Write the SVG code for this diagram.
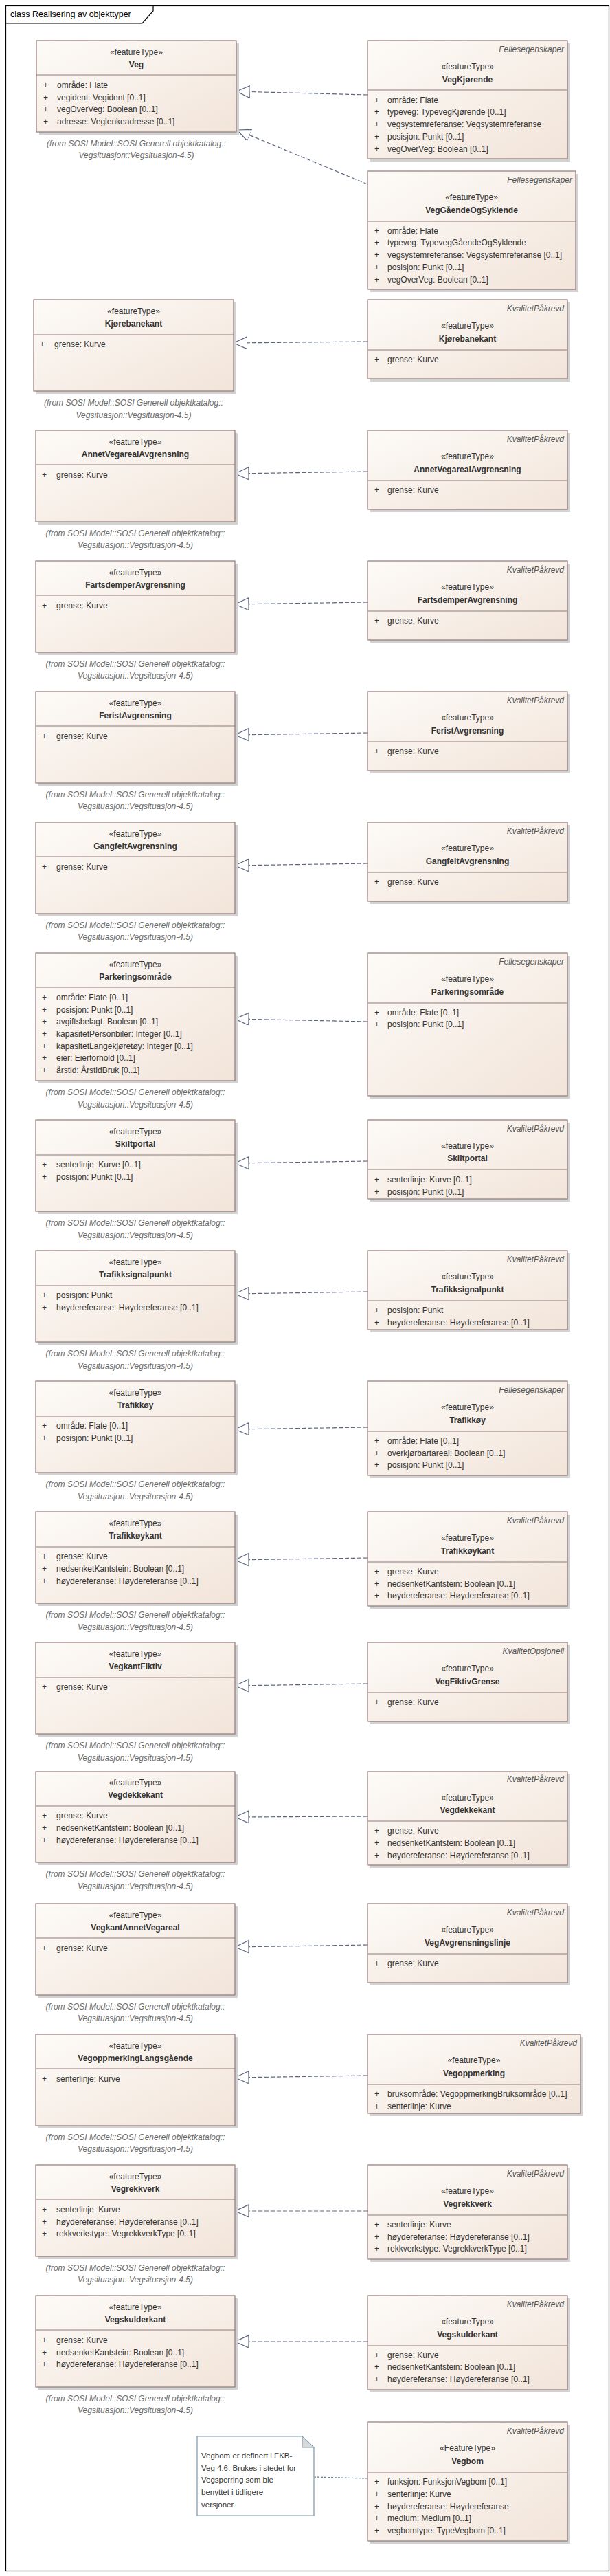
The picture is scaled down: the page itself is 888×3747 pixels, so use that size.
<svg xmlns="http://www.w3.org/2000/svg" width="888" height="3747" viewBox="0 0 888 3747">
<style>
text{font-family:"Liberation Sans",Arial,sans-serif;font-size:12px;fill:#333}
.box{fill:url(#g);stroke:#927878;stroke-width:1.2}
.sh{fill:#d2d2d2}
.sep{stroke:#927878;stroke-width:1.2}
.c{text-anchor:middle}
.b{font-weight:bold}
.k{fill:#555;font-style:italic;text-anchor:end}
.f{fill:#6a6a6a;font-style:italic;text-anchor:middle}
.con{fill:none;stroke:#5a6680;stroke-width:1.2;stroke-dasharray:6 3;marker-end:url(#tri)}
.nl{fill:none;stroke:#5a7a8a;stroke-width:1.2;stroke-dasharray:3 2}
</style>
<defs>
<linearGradient id="g" x1="0" y1="0" x2="1" y2="1">
<stop offset="0" stop-color="#fdfbf8"/>
<stop offset="1" stop-color="#f2e4d9"/>
</linearGradient>
<marker id="tri" markerUnits="userSpaceOnUse" markerWidth="22" markerHeight="20" refX="20" refY="9" orient="auto">
<path d="M20,9 L0,0 L0,18 Z" fill="#fff" stroke="#5a6680" stroke-width="1.2"/>
</marker>
</defs>
<rect x="0" y="0" width="888" height="3747" fill="#fff"/>
<rect x="8.5" y="8.5" width="878" height="3731" fill="none" stroke="#000" stroke-width="1.2"/>
<path d="M8.5,34 H207 L223,16 V8.5" fill="none" stroke="#000" stroke-width="1.2"/>
<text x="15" y="25" style="font-size:12.5px;fill:#000">class Realisering av objekttyper</text>

<g id="connectors">
<path class="con" d="M535,138 L344,133"/>
<path class="con" d="M535,268 L345,189"/>
<path class="con" d="M535,497 L340,499"/>
<path class="con" d="M535,686 L342,689"/>
<path class="con" d="M535,876 L342,879"/>
<path class="con" d="M535,1066 L342,1069"/>
<path class="con" d="M535,1256 L342,1259"/>
<path class="con" d="M535,1486 L342,1482"/>
<path class="con" d="M535,1689 L342,1692"/>
<path class="con" d="M535,1879 L342,1882"/>
<path class="con" d="M535,2076 L342,2079"/>
<path class="con" d="M535,2266 L342,2269"/>
<path class="con" d="M535,2449 L342,2452"/>
<path class="con" d="M535,2642 L342,2643"/>
<path class="con" d="M535,2829 L342,2832"/>
<path class="con" d="M535,3019 L342,3022"/>
<path class="con" d="M535,3216 L342,3216"/>
<path class="con" d="M535,3406 L342,3406"/>
<path class="nl" d="M457,3603 L535,3605"/>
</g>

<!-- Veg -->
<g id="Veg">
<rect class="sh" x="57" y="63" width="291" height="133"/>
<rect class="box" x="53" y="59" width="291" height="133"/>
<line class="sep" x1="53" y1="109" x2="344" y2="109"/>
<text class="c" x="198.5" y="80">«featureType»</text>
<text class="c b" x="198.5" y="98">Veg</text>
<text x="63" y="128">+</text><text x="83" y="128">område: Flate</text>
<text x="63" y="146">+</text><text x="83" y="146">vegident: Vegident [0..1]</text>
<text x="63" y="163">+</text><text x="83" y="163">vegOverVeg: Boolean [0..1]</text>
<text x="63" y="181">+</text><text x="83" y="181">adresse: Veglenkeadresse [0..1]</text>
<text class="f" x="198.5" y="213">(from SOSI Model::SOSI Generell objektkatalog::</text>
<text class="f" x="198.5" y="230">Vegsituasjon::Vegsituasjon-4.5)</text>
</g>
<g id="VegKjorende">
<rect class="sh" x="539" y="63" width="291" height="172"/>
<rect class="box" x="535" y="59" width="291" height="172"/>
<line class="sep" x1="535" y1="131" x2="826" y2="131"/>
<text class="k" x="821" y="76">Fellesegenskaper</text>
<text class="c" x="680.5" y="101">«featureType»</text>
<text class="c b" x="680.5" y="120">VegKjørende</text>
<text x="545" y="150">+</text><text x="564" y="150">område: Flate</text>
<text x="545" y="167">+</text><text x="564" y="167">typeveg: TypevegKjørende [0..1]</text>
<text x="545" y="185">+</text><text x="564" y="185">vegsystemreferanse: Vegsystemreferanse</text>
<text x="545" y="203">+</text><text x="564" y="203">posisjon: Punkt [0..1]</text>
<text x="545" y="221">+</text><text x="564" y="221">vegOverVeg: Boolean [0..1]</text>
</g>
<g id="VegGaendeOgSyklende">
<rect class="sh" x="539" y="253" width="303" height="172"/>
<rect class="box" x="535" y="249" width="303" height="172"/>
<line class="sep" x1="535" y1="322" x2="838" y2="322"/>
<text class="k" x="833" y="266">Fellesegenskaper</text>
<text class="c" x="686.5" y="291">«featureType»</text>
<text class="c b" x="686.5" y="310">VegGåendeOgSyklende</text>
<text x="545" y="340">+</text><text x="564" y="340">område: Flate</text>
<text x="545" y="357">+</text><text x="564" y="357">typeveg: TypevegGåendeOgSyklende</text>
<text x="545" y="375">+</text><text x="564" y="375">vegsystemreferanse: Vegsystemreferanse [0..1]</text>
<text x="545" y="393">+</text><text x="564" y="393">posisjon: Punkt [0..1]</text>
<text x="545" y="411">+</text><text x="564" y="411">vegOverVeg: Boolean [0..1]</text>
</g>

<!-- Kjørebanekant -->
<g id="Kjorebanekant">
<rect class="sh" x="53" y="440" width="291" height="133"/>
<rect class="box" x="49" y="436" width="291" height="133"/>
<line class="sep" x1="49" y1="487" x2="340" y2="487"/>
<text class="c" x="194.5" y="457">«featureType»</text>
<text class="c b" x="194.5" y="475">Kjørebanekant</text>
<text x="58" y="505">+</text><text x="79" y="505">grense: Kurve</text>
<text class="f" x="194.5" y="590">(from SOSI Model::SOSI Generell objektkatalog::</text>
<text class="f" x="194.5" y="608">Vegsituasjon::Vegsituasjon-4.5)</text>
</g>
<g id="Kjorebanekant_KP">
<rect class="sh" x="539" y="440" width="291" height="115"/>
<rect class="box" x="535" y="436" width="291" height="115"/>
<line class="sep" x1="535" y1="509" x2="826" y2="509"/>
<text class="k" x="821" y="453">KvalitetPåkrevd</text>
<text class="c" x="680.5" y="478">«featureType»</text>
<text class="c b" x="680.5" y="497">Kjørebanekant</text>
<text x="545" y="527">+</text><text x="564" y="527">grense: Kurve</text>
</g>

<!-- AnnetVegarealAvgrensning T=626 -->
<g id="AnnetVegarealAvgrensning">
<rect class="sh" x="56" y="630" width="290" height="133"/>
<rect class="box" x="52" y="626" width="290" height="133"/>
<line class="sep" x1="52" y1="676" x2="342" y2="676"/>
<text class="c" x="197" y="647">«featureType»</text>
<text class="c b" x="197" y="665">AnnetVegarealAvgrensning</text>
<text x="61" y="695">+</text><text x="82" y="695">grense: Kurve</text>
<text class="f" x="197" y="780">(from SOSI Model::SOSI Generell objektkatalog::</text>
<text class="f" x="197" y="797">Vegsituasjon::Vegsituasjon-4.5)</text>
</g>
<g id="AnnetVegarealAvgrensning_KP">
<rect class="sh" x="539" y="630" width="291" height="115"/>
<rect class="box" x="535" y="626" width="291" height="115"/>
<line class="sep" x1="535" y1="699" x2="826" y2="699"/>
<text class="k" x="821" y="643">KvalitetPåkrevd</text>
<text class="c" x="680.5" y="668">«featureType»</text>
<text class="c b" x="680.5" y="687">AnnetVegarealAvgrensning</text>
<text x="545" y="717">+</text><text x="564" y="717">grense: Kurve</text>
</g>

<!-- FartsdemperAvgrensning T=816 -->
<g id="FartsdemperAvgrensning">
<rect class="sh" x="56" y="820" width="290" height="133"/>
<rect class="box" x="52" y="816" width="290" height="133"/>
<line class="sep" x1="52" y1="866" x2="342" y2="866"/>
<text class="c" x="197" y="837">«featureType»</text>
<text class="c b" x="197" y="855">FartsdemperAvgrensning</text>
<text x="61" y="885">+</text><text x="82" y="885">grense: Kurve</text>
<text class="f" x="197" y="970">(from SOSI Model::SOSI Generell objektkatalog::</text>
<text class="f" x="197" y="987">Vegsituasjon::Vegsituasjon-4.5)</text>
</g>
<g id="FartsdemperAvgrensning_KP">
<rect class="sh" x="539" y="820" width="291" height="115"/>
<rect class="box" x="535" y="816" width="291" height="115"/>
<line class="sep" x1="535" y1="889" x2="826" y2="889"/>
<text class="k" x="821" y="833">KvalitetPåkrevd</text>
<text class="c" x="680.5" y="858">«featureType»</text>
<text class="c b" x="680.5" y="877">FartsdemperAvgrensning</text>
<text x="545" y="907">+</text><text x="564" y="907">grense: Kurve</text>
</g>

<!-- FeristAvgrensning T=1006 -->
<g id="FeristAvgrensning">
<rect class="sh" x="56" y="1010" width="290" height="133"/>
<rect class="box" x="52" y="1006" width="290" height="133"/>
<line class="sep" x1="52" y1="1056" x2="342" y2="1056"/>
<text class="c" x="197" y="1027">«featureType»</text>
<text class="c b" x="197" y="1045">FeristAvgrensning</text>
<text x="61" y="1075">+</text><text x="82" y="1075">grense: Kurve</text>
<text class="f" x="197" y="1160">(from SOSI Model::SOSI Generell objektkatalog::</text>
<text class="f" x="197" y="1177">Vegsituasjon::Vegsituasjon-4.5)</text>
</g>
<g id="FeristAvgrensning_KP">
<rect class="sh" x="539" y="1010" width="291" height="115"/>
<rect class="box" x="535" y="1006" width="291" height="115"/>
<line class="sep" x1="535" y1="1079" x2="826" y2="1079"/>
<text class="k" x="821" y="1023">KvalitetPåkrevd</text>
<text class="c" x="680.5" y="1048">«featureType»</text>
<text class="c b" x="680.5" y="1067">FeristAvgrensning</text>
<text x="545" y="1097">+</text><text x="564" y="1097">grense: Kurve</text>
</g>

<!-- GangfeltAvgrensning T=1196 -->
<g id="GangfeltAvgrensning">
<rect class="sh" x="56" y="1200" width="290" height="133"/>
<rect class="box" x="52" y="1196" width="290" height="133"/>
<line class="sep" x1="52" y1="1246" x2="342" y2="1246"/>
<text class="c" x="197" y="1217">«featureType»</text>
<text class="c b" x="197" y="1235">GangfeltAvgrensning</text>
<text x="61" y="1265">+</text><text x="82" y="1265">grense: Kurve</text>
<text class="f" x="197" y="1350">(from SOSI Model::SOSI Generell objektkatalog::</text>
<text class="f" x="197" y="1367">Vegsituasjon::Vegsituasjon-4.5)</text>
</g>
<g id="GangfeltAvgrensning_KP">
<rect class="sh" x="539" y="1200" width="291" height="115"/>
<rect class="box" x="535" y="1196" width="291" height="115"/>
<line class="sep" x1="535" y1="1269" x2="826" y2="1269"/>
<text class="k" x="821" y="1213">KvalitetPåkrevd</text>
<text class="c" x="680.5" y="1238">«featureType»</text>
<text class="c b" x="680.5" y="1257">GangfeltAvgrensning</text>
<text x="545" y="1287">+</text><text x="564" y="1287">grense: Kurve</text>
</g>

<!-- Parkeringsområde T=1386 -->
<g id="Parkeringsomrade">
<rect class="sh" x="56" y="1390" width="290" height="186"/>
<rect class="box" x="52" y="1386" width="290" height="186"/>
<line class="sep" x1="52" y1="1436" x2="342" y2="1436"/>
<text class="c" x="197" y="1407">«featureType»</text>
<text class="c b" x="197" y="1425">Parkeringsområde</text>
<text x="61" y="1455">+</text><text x="82" y="1455">område: Flate [0..1]</text>
<text x="61" y="1473">+</text><text x="82" y="1473">posisjon: Punkt [0..1]</text>
<text x="61" y="1490">+</text><text x="82" y="1490">avgiftsbelagt: Boolean [0..1]</text>
<text x="61" y="1508">+</text><text x="82" y="1508">kapasitetPersonbiler: Integer [0..1]</text>
<text x="61" y="1526">+</text><text x="82" y="1526">kapasitetLangekjøretøy: Integer [0..1]</text>
<text x="61" y="1543">+</text><text x="82" y="1543">eier: Eierforhold [0..1]</text>
<text x="61" y="1561">+</text><text x="82" y="1561">årstid: ÅrstidBruk [0..1]</text>
<text class="f" x="197" y="1593">(from SOSI Model::SOSI Generell objektkatalog::</text>
<text class="f" x="197" y="1611">Vegsituasjon::Vegsituasjon-4.5)</text>
</g>
<g id="Parkeringsomrade_FE">
<rect class="sh" x="539" y="1390" width="291" height="208"/>
<rect class="box" x="535" y="1386" width="291" height="208"/>
<line class="sep" x1="535" y1="1459" x2="826" y2="1459"/>
<text class="k" x="821" y="1403">Fellesegenskaper</text>
<text class="c" x="680.5" y="1428">«featureType»</text>
<text class="c b" x="680.5" y="1447">Parkeringsområde</text>
<text x="545" y="1477">+</text><text x="564" y="1477">område: Flate [0..1]</text>
<text x="545" y="1494">+</text><text x="564" y="1494">posisjon: Punkt [0..1]</text>
</g>

<!-- Skiltportal T=1629 -->
<g id="Skiltportal">
<rect class="sh" x="56" y="1633" width="290" height="133"/>
<rect class="box" x="52" y="1629" width="290" height="133"/>
<line class="sep" x1="52" y1="1680" x2="342" y2="1680"/>
<text class="c" x="197" y="1650">«featureType»</text>
<text class="c b" x="197" y="1668">Skiltportal</text>
<text x="61" y="1698">+</text><text x="82" y="1698">senterlinje: Kurve [0..1]</text>
<text x="61" y="1716">+</text><text x="82" y="1716">posisjon: Punkt [0..1]</text>
<text class="f" x="197" y="1783">(from SOSI Model::SOSI Generell objektkatalog::</text>
<text class="f" x="197" y="1801">Vegsituasjon::Vegsituasjon-4.5)</text>
</g>
<g id="Skiltportal_KP">
<rect class="sh" x="539" y="1633" width="291" height="115"/>
<rect class="box" x="535" y="1629" width="291" height="115"/>
<line class="sep" x1="535" y1="1701" x2="826" y2="1701"/>
<text class="k" x="821" y="1646">KvalitetPåkrevd</text>
<text class="c" x="680.5" y="1671">«featureType»</text>
<text class="c b" x="680.5" y="1689">Skiltportal</text>
<text x="545" y="1720">+</text><text x="564" y="1720">senterlinje: Kurve [0..1]</text>
<text x="545" y="1738">+</text><text x="564" y="1738">posisjon: Punkt [0..1]</text>
</g>

<!-- Trafikksignalpunkt T=1819 -->
<g id="Trafikksignalpunkt">
<rect class="sh" x="56" y="1823" width="290" height="133"/>
<rect class="box" x="52" y="1819" width="290" height="133"/>
<line class="sep" x1="52" y1="1870" x2="342" y2="1870"/>
<text class="c" x="197" y="1840">«featureType»</text>
<text class="c b" x="197" y="1858">Trafikksignalpunkt</text>
<text x="61" y="1888">+</text><text x="82" y="1888">posisjon: Punkt</text>
<text x="61" y="1906">+</text><text x="82" y="1906">høydereferanse: Høydereferanse [0..1]</text>
<text class="f" x="197" y="1973">(from SOSI Model::SOSI Generell objektkatalog::</text>
<text class="f" x="197" y="1991">Vegsituasjon::Vegsituasjon-4.5)</text>
</g>
<g id="Trafikksignalpunkt_KP">
<rect class="sh" x="539" y="1823" width="291" height="115"/>
<rect class="box" x="535" y="1819" width="291" height="115"/>
<line class="sep" x1="535" y1="1892" x2="826" y2="1892"/>
<text class="k" x="821" y="1836">KvalitetPåkrevd</text>
<text class="c" x="680.5" y="1861">«featureType»</text>
<text class="c b" x="680.5" y="1880">Trafikksignalpunkt</text>
<text x="545" y="1910">+</text><text x="564" y="1910">posisjon: Punkt</text>
<text x="545" y="1928">+</text><text x="564" y="1928">høydereferanse: Høydereferanse [0..1]</text>
</g>

<!-- Trafikkøy T=2009 -->
<g id="Trafikkoy">
<rect class="sh" x="56" y="2013" width="290" height="133"/>
<rect class="box" x="52" y="2009" width="290" height="133"/>
<line class="sep" x1="52" y1="2060" x2="342" y2="2060"/>
<text class="c" x="197" y="2030">«featureType»</text>
<text class="c b" x="197" y="2048">Trafikkøy</text>
<text x="61" y="2078">+</text><text x="82" y="2078">område: Flate [0..1]</text>
<text x="61" y="2096">+</text><text x="82" y="2096">posisjon: Punkt [0..1]</text>
<text class="f" x="197" y="2163">(from SOSI Model::SOSI Generell objektkatalog::</text>
<text class="f" x="197" y="2181">Vegsituasjon::Vegsituasjon-4.5)</text>
</g>
<g id="Trafikkoy_FE">
<rect class="sh" x="539" y="2013" width="291" height="137"/>
<rect class="box" x="535" y="2009" width="291" height="137"/>
<line class="sep" x1="535" y1="2082" x2="826" y2="2082"/>
<text class="k" x="821" y="2026">Fellesegenskaper</text>
<text class="c" x="680.5" y="2051">«featureType»</text>
<text class="c b" x="680.5" y="2070">Trafikkøy</text>
<text x="545" y="2100">+</text><text x="564" y="2100">område: Flate [0..1]</text>
<text x="545" y="2118">+</text><text x="564" y="2118">overkjørbartareal: Boolean [0..1]</text>
<text x="545" y="2135">+</text><text x="564" y="2135">posisjon: Punkt [0..1]</text>
</g>

<!-- Trafikkøykant T=2199 -->
<g id="Trafikkoykant">
<rect class="sh" x="56" y="2203" width="290" height="133"/>
<rect class="box" x="52" y="2199" width="290" height="133"/>
<line class="sep" x1="52" y1="2250" x2="342" y2="2250"/>
<text class="c" x="197" y="2220">«featureType»</text>
<text class="c b" x="197" y="2238">Trafikkøykant</text>
<text x="61" y="2268">+</text><text x="82" y="2268">grense: Kurve</text>
<text x="61" y="2286">+</text><text x="82" y="2286">nedsenketKantstein: Boolean [0..1]</text>
<text x="61" y="2304">+</text><text x="82" y="2304">høydereferanse: Høydereferanse [0..1]</text>
<text class="f" x="197" y="2353">(from SOSI Model::SOSI Generell objektkatalog::</text>
<text class="f" x="197" y="2371">Vegsituasjon::Vegsituasjon-4.5)</text>
</g>
<g id="Trafikkoykant_KP">
<rect class="sh" x="539" y="2203" width="291" height="137"/>
<rect class="box" x="535" y="2199" width="291" height="137"/>
<line class="sep" x1="535" y1="2272" x2="826" y2="2272"/>
<text class="k" x="821" y="2216">KvalitetPåkrevd</text>
<text class="c" x="680.5" y="2241">«featureType»</text>
<text class="c b" x="680.5" y="2260">Trafikkøykant</text>
<text x="545" y="2290">+</text><text x="564" y="2290">grense: Kurve</text>
<text x="545" y="2308">+</text><text x="564" y="2308">nedsenketKantstein: Boolean [0..1]</text>
<text x="545" y="2325">+</text><text x="564" y="2325">høydereferanse: Høydereferanse [0..1]</text>
</g>

<!-- VegkantFiktiv T=2389 -->
<g id="VegkantFiktiv">
<rect class="sh" x="56" y="2393" width="290" height="133"/>
<rect class="box" x="52" y="2389" width="290" height="133"/>
<line class="sep" x1="52" y1="2440" x2="342" y2="2440"/>
<text class="c" x="197" y="2410">«featureType»</text>
<text class="c b" x="197" y="2428">VegkantFiktiv</text>
<text x="61" y="2458">+</text><text x="82" y="2458">grense: Kurve</text>
<text class="f" x="197" y="2543">(from SOSI Model::SOSI Generell objektkatalog::</text>
<text class="f" x="197" y="2561">Vegsituasjon::Vegsituasjon-4.5)</text>
</g>
<g id="VegFiktivGrense">
<rect class="sh" x="539" y="2393" width="291" height="115"/>
<rect class="box" x="535" y="2389" width="291" height="115"/>
<line class="sep" x1="535" y1="2462" x2="826" y2="2462"/>
<text class="k" x="821" y="2406">KvalitetOpsjonell</text>
<text class="c" x="680.5" y="2431">«featureType»</text>
<text class="c b" x="680.5" y="2450">VegFiktivGrense</text>
<text x="545" y="2480">+</text><text x="564" y="2480">grense: Kurve</text>
</g>

<!-- Vegdekkekant T=2577 -->
<g id="Vegdekkekant">
<rect class="sh" x="56" y="2581" width="290" height="132"/>
<rect class="box" x="52" y="2577" width="290" height="132"/>
<line class="sep" x1="52" y1="2627" x2="342" y2="2627"/>
<text class="c" x="197" y="2597">«featureType»</text>
<text class="c b" x="197" y="2615">Vegdekkekant</text>
<text x="61" y="2645">+</text><text x="82" y="2645">grense: Kurve</text>
<text x="61" y="2663">+</text><text x="82" y="2663">nedsenketKantstein: Boolean [0..1]</text>
<text x="61" y="2681">+</text><text x="82" y="2681">høydereferanse: Høydereferanse [0..1]</text>
<text class="f" x="197" y="2730">(from SOSI Model::SOSI Generell objektkatalog::</text>
<text class="f" x="197" y="2748">Vegsituasjon::Vegsituasjon-4.5)</text>
</g>
<g id="Vegdekkekant_KP">
<rect class="sh" x="539" y="2581" width="291" height="136"/>
<rect class="box" x="535" y="2577" width="291" height="136"/>
<line class="sep" x1="535" y1="2649" x2="826" y2="2649"/>
<text class="k" x="821" y="2592">KvalitetPåkrevd</text>
<text class="c" x="680.5" y="2619">«featureType»</text>
<text class="c b" x="680.5" y="2637">Vegdekkekant</text>
<text x="545" y="2667">+</text><text x="564" y="2667">grense: Kurve</text>
<text x="545" y="2685">+</text><text x="564" y="2685">nedsenketKantstein: Boolean [0..1]</text>
<text x="545" y="2703">+</text><text x="564" y="2703">høydereferanse: Høydereferanse [0..1]</text>
</g>

<!-- VegkantAnnetVegareal T=2769 -->
<g id="VegkantAnnetVegareal">
<rect class="sh" x="56" y="2773" width="290" height="133"/>
<rect class="box" x="52" y="2769" width="290" height="133"/>
<line class="sep" x1="52" y1="2819" x2="342" y2="2819"/>
<text class="c" x="197" y="2790">«featureType»</text>
<text class="c b" x="197" y="2808">VegkantAnnetVegareal</text>
<text x="61" y="2838">+</text><text x="82" y="2838">grense: Kurve</text>
<text class="f" x="197" y="2923">(from SOSI Model::SOSI Generell objektkatalog::</text>
<text class="f" x="197" y="2940">Vegsituasjon::Vegsituasjon-4.5)</text>
</g>
<g id="VegAvgrensningslinje">
<rect class="sh" x="539" y="2773" width="291" height="115"/>
<rect class="box" x="535" y="2769" width="291" height="115"/>
<line class="sep" x1="535" y1="2842" x2="826" y2="2842"/>
<text class="k" x="821" y="2786">KvalitetPåkrevd</text>
<text class="c" x="680.5" y="2811">«featureType»</text>
<text class="c b" x="680.5" y="2830">VegAvgrensningslinje</text>
<text x="545" y="2860">+</text><text x="564" y="2860">grense: Kurve</text>
</g>

<!-- VegoppmerkingLangsgående T=2959 -->
<g id="VegoppmerkingLangsgaende">
<rect class="sh" x="56" y="2963" width="290" height="133"/>
<rect class="box" x="52" y="2959" width="290" height="133"/>
<line class="sep" x1="52" y1="3009" x2="342" y2="3009"/>
<text class="c" x="197" y="2980">«featureType»</text>
<text class="c b" x="197" y="2998">VegoppmerkingLangsgående</text>
<text x="61" y="3028">+</text><text x="82" y="3028">senterlinje: Kurve</text>
<text class="f" x="197" y="3113">(from SOSI Model::SOSI Generell objektkatalog::</text>
<text class="f" x="197" y="3130">Vegsituasjon::Vegsituasjon-4.5)</text>
</g>
<g id="Vegoppmerking">
<rect class="sh" x="539" y="2963" width="310" height="115"/>
<rect class="box" x="535" y="2959" width="310" height="115"/>
<line class="sep" x1="535" y1="3032" x2="845" y2="3032"/>
<text class="k" x="840" y="2976">KvalitetPåkrevd</text>
<text class="c" x="690" y="3001">«featureType»</text>
<text class="c b" x="690" y="3020">Vegoppmerking</text>
<text x="545" y="3050">+</text><text x="564" y="3050">bruksområde: VegoppmerkingBruksområde [0..1]</text>
<text x="545" y="3068">+</text><text x="564" y="3068">senterlinje: Kurve</text>
</g>

<!-- Vegrekkverk T=3149 -->
<g id="Vegrekkverk">
<rect class="sh" x="56" y="3153" width="290" height="133"/>
<rect class="box" x="52" y="3149" width="290" height="133"/>
<line class="sep" x1="52" y1="3199" x2="342" y2="3199"/>
<text class="c" x="197" y="3170">«featureType»</text>
<text class="c b" x="197" y="3188">Vegrekkverk</text>
<text x="61" y="3218">+</text><text x="82" y="3218">senterlinje: Kurve</text>
<text x="61" y="3236">+</text><text x="82" y="3236">høydereferanse: Høydereferanse [0..1]</text>
<text x="61" y="3253">+</text><text x="82" y="3253">rekkverkstype: VegrekkverkType [0..1]</text>
<text class="f" x="197" y="3303">(from SOSI Model::SOSI Generell objektkatalog::</text>
<text class="f" x="197" y="3320">Vegsituasjon::Vegsituasjon-4.5)</text>
</g>
<g id="Vegrekkverk_KP">
<rect class="sh" x="539" y="3153" width="291" height="137"/>
<rect class="box" x="535" y="3149" width="291" height="137"/>
<line class="sep" x1="535" y1="3222" x2="826" y2="3222"/>
<text class="k" x="821" y="3166">KvalitetPåkrevd</text>
<text class="c" x="680.5" y="3191">«featureType»</text>
<text class="c b" x="680.5" y="3210">Vegrekkverk</text>
<text x="545" y="3240">+</text><text x="564" y="3240">senterlinje: Kurve</text>
<text x="545" y="3258">+</text><text x="564" y="3258">høydereferanse: Høydereferanse [0..1]</text>
<text x="545" y="3275">+</text><text x="564" y="3275">rekkverkstype: VegrekkverkType [0..1]</text>
</g>

<!-- Vegskulderkant T=3339 -->
<g id="Vegskulderkant">
<rect class="sh" x="56" y="3343" width="290" height="133"/>
<rect class="box" x="52" y="3339" width="290" height="133"/>
<line class="sep" x1="52" y1="3389" x2="342" y2="3389"/>
<text class="c" x="197" y="3360">«featureType»</text>
<text class="c b" x="197" y="3378">Vegskulderkant</text>
<text x="61" y="3408">+</text><text x="82" y="3408">grense: Kurve</text>
<text x="61" y="3426">+</text><text x="82" y="3426">nedsenketKantstein: Boolean [0..1]</text>
<text x="61" y="3443">+</text><text x="82" y="3443">høydereferanse: Høydereferanse [0..1]</text>
<text class="f" x="197" y="3493">(from SOSI Model::SOSI Generell objektkatalog::</text>
<text class="f" x="197" y="3510">Vegsituasjon::Vegsituasjon-4.5)</text>
</g>
<g id="Vegskulderkant_KP">
<rect class="sh" x="539" y="3343" width="291" height="137"/>
<rect class="box" x="535" y="3339" width="291" height="137"/>
<line class="sep" x1="535" y1="3412" x2="826" y2="3412"/>
<text class="k" x="821" y="3356">KvalitetPåkrevd</text>
<text class="c" x="680.5" y="3381">«featureType»</text>
<text class="c b" x="680.5" y="3400">Vegskulderkant</text>
<text x="545" y="3430">+</text><text x="564" y="3430">grense: Kurve</text>
<text x="545" y="3447">+</text><text x="564" y="3447">nedsenketKantstein: Boolean [0..1]</text>
<text x="545" y="3465">+</text><text x="564" y="3465">høydereferanse: Høydereferanse [0..1]</text>
</g>

<!-- Vegbom -->
<g id="Vegbom">
<rect class="sh" x="539" y="3527" width="291" height="173"/>
<rect class="box" x="535" y="3523" width="291" height="173"/>
<line class="sep" x1="535" y1="3596" x2="826" y2="3596"/>
<text class="k" x="821" y="3540">KvalitetPåkrevd</text>
<text class="c" x="680.5" y="3565">«FeatureType»</text>
<text class="c b" x="680.5" y="3584">Vegbom</text>
<text x="545" y="3614">+</text><text x="564" y="3614">funksjon: FunksjonVegbom [0..1]</text>
<text x="545" y="3632">+</text><text x="564" y="3632">senterlinje: Kurve</text>
<text x="545" y="3650">+</text><text x="564" y="3650">høydereferanse: Høydereferanse</text>
<text x="545" y="3667">+</text><text x="564" y="3667">medium: Medium [0..1]</text>
<text x="545" y="3685">+</text><text x="564" y="3685">vegbomtype: TypeVegbom [0..1]</text>
</g>

<g id="note">
<path d="M287,3544 H440 L457,3560 V3659 H287 Z" fill="#fff" stroke="#7d97a8" stroke-width="1.2"/>
<path d="M440,3544 V3560 H457 Z" fill="#d8d8d8" stroke="#7d97a8" stroke-width="1"/>
<text x="293" y="3576" style="font-size:11.5px">Vegbom er definert i FKB-</text>
<text x="293" y="3594" style="font-size:11.5px">Veg 4.6. Brukes i stedet for</text>
<text x="293" y="3611" style="font-size:11.5px">Vegsperring som ble</text>
<text x="293" y="3629" style="font-size:11.5px">benyttet i tidligere</text>
<text x="293" y="3647" style="font-size:11.5px">versjoner.</text>
</g>
</svg>
